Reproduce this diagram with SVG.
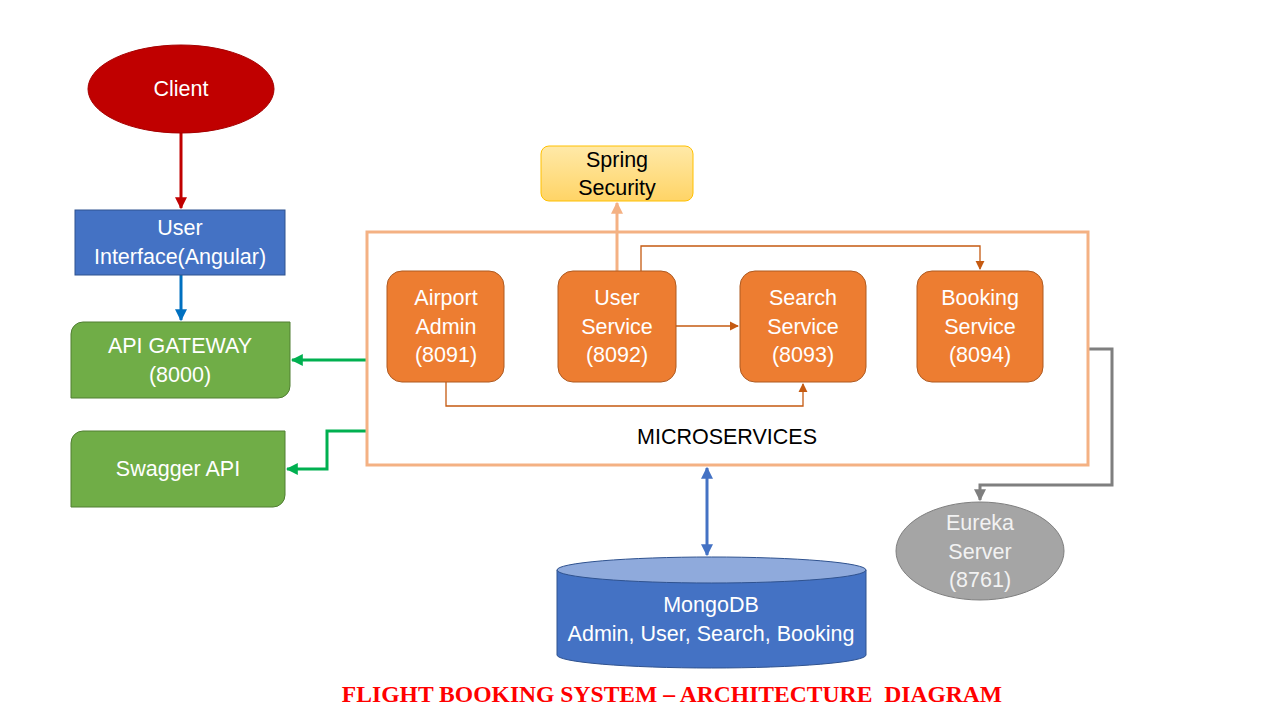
<svg xmlns="http://www.w3.org/2000/svg" width="1280" height="720" viewBox="0 0 1280 720">
<style>
.t{font-family:"Liberation Sans",Arial,sans-serif;font-size:21.5px;text-anchor:middle;dominant-baseline:central}
.w{fill:#fff}
.k{fill:#000}
.svc{fill:#ED7D31;stroke:#AE5A21;stroke-width:1}
.grn{fill:#70AD47;stroke:#507E32;stroke-width:1}
.c{fill:none}
</style>
<defs>
<marker id="mRed" viewBox="0 0 10 10" refX="9" refY="5" markerWidth="4" markerHeight="4" orient="auto"><path d="M0,0L10,5L0,10z" fill="#C00000"/></marker>
<marker id="mBlue" viewBox="0 0 10 10" refX="9" refY="5" markerWidth="4" markerHeight="4" orient="auto"><path d="M0,0L10,5L0,10z" fill="#0070C0"/></marker>
<marker id="mGrn" viewBox="0 0 10 10" refX="9" refY="5" markerWidth="4" markerHeight="4" orient="auto"><path d="M0,0L10,5L0,10z" fill="#00B050"/></marker>
<marker id="mPeach" viewBox="0 0 10 10" refX="9" refY="5" markerWidth="4" markerHeight="4" orient="auto"><path d="M0,0L10,5L0,10z" fill="#F4B183"/></marker>
<marker id="mOr" viewBox="0 0 10 10" refX="9" refY="5" markerWidth="7" markerHeight="7" orient="auto"><path d="M0,0L10,5L0,10z" fill="#C55A11"/></marker>
<marker id="mGray" viewBox="0 0 10 10" refX="9" refY="5" markerWidth="4" markerHeight="4" orient="auto"><path d="M0,0L10,5L0,10z" fill="#7F7F7F"/></marker>
<marker id="mDb" viewBox="0 0 10 10" refX="9" refY="5" markerWidth="4" markerHeight="4" orient="auto-start-reverse"><path d="M0,0L10,5L0,10z" fill="#4472C4"/></marker>
<linearGradient id="gSpring" x1="0" y1="0" x2="0" y2="1"><stop offset="0" stop-color="#FFE9A8"/><stop offset="1" stop-color="#FFD466"/></linearGradient>
</defs>
<rect width="1280" height="720" fill="#fff"/>

<g id="connectors">
<line class="c" x1="181" y1="133" x2="181" y2="208" stroke="#C00000" stroke-width="3" marker-end="url(#mRed)"/>
<line class="c" x1="181" y1="275" x2="181" y2="320" stroke="#0070C0" stroke-width="3" marker-end="url(#mBlue)"/>
<line class="c" x1="367" y1="360" x2="292" y2="360" stroke="#00B050" stroke-width="3" marker-end="url(#mGrn)"/>
<polyline class="c" points="367,431 327,431 327,469 287,469" stroke="#00B050" stroke-width="3" marker-end="url(#mGrn)"/>
<line class="c" x1="617" y1="271" x2="617" y2="203" stroke="#F4B183" stroke-width="3" marker-end="url(#mPeach)"/>
<line class="c" x1="676" y1="326" x2="738" y2="326" stroke="#C55A11" stroke-width="1.3" marker-end="url(#mOr)"/>
<polyline class="c" points="641,271 641,246 980,246 980,269" stroke="#C55A11" stroke-width="1.3" marker-end="url(#mOr)"/>
<polyline class="c" points="446,382 446,406 803,406 803,384" stroke="#C55A11" stroke-width="1.3" marker-end="url(#mOr)"/>
<polyline class="c" points="1088,349 1112,349 1112,485 980,485 980,500" stroke="#7F7F7F" stroke-width="3" marker-end="url(#mGray)"/>
<line class="c" x1="707" y1="468" x2="707" y2="555" stroke="#4472C4" stroke-width="3" marker-start="url(#mDb)" marker-end="url(#mDb)"/>
</g>

<g id="client">
<ellipse cx="181" cy="89" rx="93" ry="44" fill="#C00000" stroke="#A50000" stroke-width="1"/>
<text class="t w" x="181" y="89">Client</text>
</g>

<g id="user-interface">
<rect x="75" y="210" width="210" height="65" fill="#4472C4" stroke="#2F528F" stroke-width="1"/>
<text class="t w" x="180" y="228">User</text>
<text class="t w" x="180" y="257">Interface(Angular)</text>
</g>

<g id="api-gateway">
<path class="grn" d="M83,322H290V386A12,12 0 0 1 278,398H71V334A12,12 0 0 1 83,322Z"/>
<text class="t w" x="180" y="346">API GATEWAY</text>
<text class="t w" x="180" y="375">(8000)</text>
</g>

<g id="swagger-api">
<path class="grn" d="M83,431H285V495A12,12 0 0 1 273,507H71V443A12,12 0 0 1 83,431Z"/>
<text class="t w" x="178" y="469">Swagger API</text>
</g>

<g id="spring-security">
<rect x="541" y="146" width="152" height="55" rx="8" fill="url(#gSpring)" stroke="#FFC000" stroke-width="1"/>
<text class="t k" x="617" y="160">Spring</text>
<text class="t k" x="617" y="188">Security</text>
</g>

<g id="microservices">
<rect x="367" y="232" width="721" height="233" fill="none" stroke="#F4B183" stroke-width="3"/>
<text class="t k" x="727" y="437">MICROSERVICES</text>
</g>

<g id="airport-admin">
<rect class="svc" x="387" y="271" width="117" height="111" rx="15"/>
<text class="t w" x="446" y="298">Airport</text>
<text class="t w" x="446" y="327">Admin</text>
<text class="t w" x="446" y="355">(8091)</text>
</g>

<g id="user-service">
<rect class="svc" x="558" y="271" width="118" height="111" rx="15"/>
<text class="t w" x="617" y="298">User</text>
<text class="t w" x="617" y="327">Service</text>
<text class="t w" x="617" y="355">(8092)</text>
</g>

<g id="search-service">
<rect class="svc" x="740" y="271" width="126" height="111" rx="15"/>
<text class="t w" x="803" y="298">Search</text>
<text class="t w" x="803" y="327">Service</text>
<text class="t w" x="803" y="355">(8093)</text>
</g>

<g id="booking-service">
<rect class="svc" x="917" y="271" width="126" height="111" rx="15"/>
<text class="t w" x="980" y="298">Booking</text>
<text class="t w" x="980" y="327">Service</text>
<text class="t w" x="980" y="355">(8094)</text>
</g>

<g id="eureka-server">
<ellipse cx="980" cy="551" rx="84" ry="49" fill="#A5A5A5" stroke="#7F7F7F" stroke-width="1"/>
<text class="t" fill="#F2F2F2" x="980" y="523">Eureka</text>
<text class="t" fill="#F2F2F2" x="980" y="552">Server</text>
<text class="t" fill="#F2F2F2" x="980" y="580">(8761)</text>
</g>

<g id="mongodb">
<path d="M557,570V655A154.5,13 0 0 0 866,655V570Z" fill="#4472C4" stroke="#2F528F" stroke-width="1"/>
<ellipse cx="711.5" cy="570" rx="154.5" ry="13" fill="#8FAADC" stroke="#2F528F" stroke-width="1"/>
<text class="t w" x="711" y="605">MongoDB</text>
<text class="t w" x="711" y="634">Admin, User, Search, Booking</text>
</g>

<text x="672" y="702" text-anchor="middle" font-family="'Liberation Serif','Times New Roman',serif" font-weight="bold" font-size="23.6" fill="#FF0000" xml:space="preserve">FLIGHT BOOKING SYSTEM – ARCHITECTURE  DIAGRAM</text>
</svg>
